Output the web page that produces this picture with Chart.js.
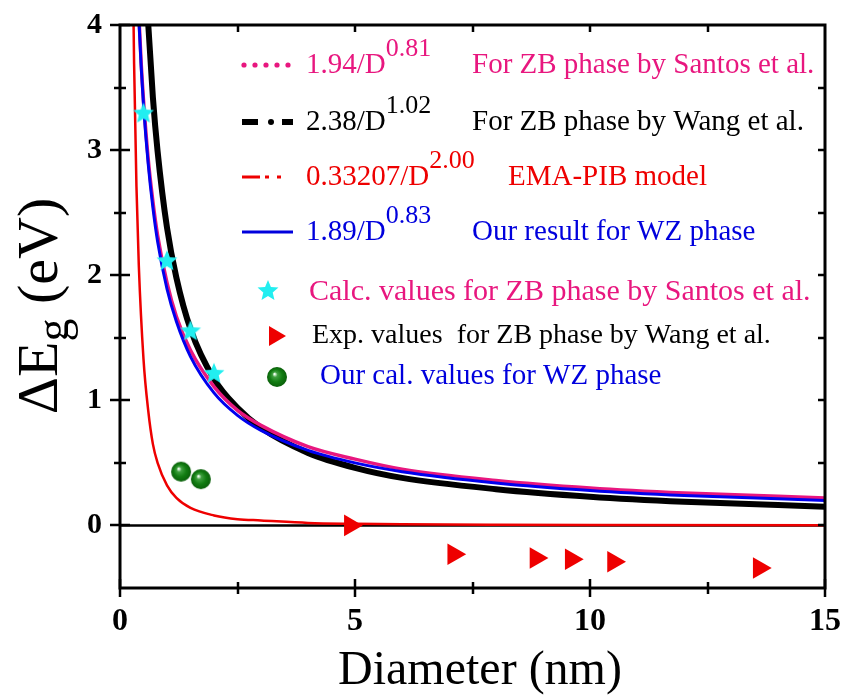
<!DOCTYPE html>
<html>
<head>
<meta charset="utf-8">
<script src="https://cdn.jsdelivr.net/npm/chart.js@4.4.0/dist/chart.umd.min.js"></script>
<style>
    html, body { margin: 0; padding: 0; background: #fff; }
    #wrap { width: 847px; height: 697px; }
</style>
</head>
<body>
<div id="wrap"><canvas id="chartEg" width="847" height="697"></canvas></div>
<script>
    "use strict";

    // axis ticks
    var xTicks = [0, 5, 10, 15];
    var yTicks = [0, 1, 2, 3, 4];

    // 1.94/D^0.81 (Santos, ZB)
    var santosD   = [0.38, 0.45, 0.5, 0.6, 0.7, 0.8, 1.0, 1.2, 1.5, 2, 2.5, 3, 4, 5, 6, 8, 10, 12, 15];
    var santosFit = [4.25, 3.70, 3.40, 2.93, 2.59, 2.32, 1.94, 1.67, 1.40, 1.11, 0.92, 0.80, 0.63, 0.53, 0.45, 0.36, 0.30, 0.26, 0.22];

    // 2.38/D^1.02 (Wang, ZB)
    var wangD   = [0.55, 0.6, 0.7, 0.8, 1.0, 1.2, 1.5, 2, 2.5, 3, 4, 5, 6, 8, 10, 12, 15];
    var wangFit = [4.38, 4.01, 3.42, 2.99, 2.38, 1.98, 1.57, 1.17, 0.94, 0.78, 0.58, 0.46, 0.38, 0.29, 0.23, 0.19, 0.15];

    // 0.33207/D^2 (EMA-PIB)
    var emaD   = [0.27, 0.3, 0.35, 0.4, 0.5, 0.6, 0.7, 0.8, 1.0, 1.2, 1.5, 2, 2.5, 3, 4, 5, 6, 8, 10, 15];
    var emaFit = [4.56, 3.69, 2.71, 2.08, 1.33, 0.92, 0.65, 0.50, 0.32, 0.22, 0.14, 0.08, 0.05, 0.04, 0.02, 0.013, 0.009, 0.005, 0.003, 0.0015];

    // 1.89/D^0.83 (WZ)
    var wzD   = [0.38, 0.45, 0.5, 0.6, 0.7, 0.8, 1.0, 1.2, 1.5, 2, 2.5, 3, 4, 5, 6, 8, 10, 12, 15];
    var wzFit = [4.22, 3.67, 3.36, 2.89, 2.54, 2.27, 1.89, 1.63, 1.35, 1.06, 0.88, 0.76, 0.60, 0.50, 0.43, 0.34, 0.28, 0.24, 0.20];

    // point data
    var calcD  = [0.5, 1.0, 1.5, 2.0];
    var calcEg = [3.30, 2.12, 1.56, 1.22];
    var expD   = [4.9, 7.1, 8.85, 9.6, 10.5, 13.6];
    var expEg  = [0.0, -0.23, -0.26, -0.27, -0.29, -0.34];
    var ourD   = [1.3, 1.72];
    var ourEg  = [0.43, 0.37];

    var PINK = '#e8177f';
    var SERIF = '"Liberation Serif", "Times New Roman", serif';

    function pairs(xs, ys) {
        return xs.map(function(x, i) { return { x: x, y: ys[i] }; });
    }

    // filled five-point star
    function makeStar(r, color) {
        var c = document.createElement('canvas');
        var s = Math.ceil(r * 2 + 2);
        c.width = s; c.height = s;
        var g = c.getContext('2d');
        g.beginPath();
        for (var i = 0; i < 10; i++) {
            var rad = i % 2 === 0 ? r : r * 0.45;
            var a = -Math.PI / 2 + i * Math.PI / 5;
            g.lineTo(s / 2 + rad * Math.cos(a), s / 2 + 1 + rad * Math.sin(a));
        }
        g.closePath();
        g.fillStyle = color;
        g.fill();
        return c;
    }

    // shaded green sphere
    function makeBall(r) {
        var c = document.createElement('canvas');
        var s = Math.ceil(r * 2 + 2);
        c.width = s; c.height = s;
        var g = c.getContext('2d');
        var cx = s / 2, cy = s / 2;
        var grd = g.createRadialGradient(cx - r * 0.25, cy - r * 0.3, r * 0.05, cx, cy, r);
        grd.addColorStop(0, '#f0fff0');
        grd.addColorStop(0.22, '#3f9f3f');
        grd.addColorStop(0.6, '#127d12');
        grd.addColorStop(1, '#0a5f0a');
        g.beginPath();
        g.arc(cx, cy, r, 0, Math.PI * 2);
        g.fillStyle = grd;
        g.fill();
        return c;
    }

    var starImg = makeStar(11, '#22eef0');
    var ballImg = makeBall(10);

    function curve(label, xs, ys, color, width, order) {
        return {
            label: label,
            data: pairs(xs, ys),
            showLine: true,
            borderColor: color,
            borderWidth: width,
            pointRadius: 0,
            cubicInterpolationMode: 'monotone',
            order: order
        };
    }

    // frame, crossing ticks and the zero line
    var framePlugin = {
        id: 'frame',
        beforeDatasetsDraw: function(chart) {
            var ctx = chart.ctx, a = chart.chartArea;
            var y0 = chart.scales.y.getPixelForValue(0);
            ctx.save();
            ctx.strokeStyle = '#000';
            ctx.lineWidth = 2.5;
            ctx.beginPath();
            ctx.moveTo(a.left, y0);
            ctx.lineTo(a.right, y0);
            ctx.stroke();
            ctx.restore();
        },
        afterDatasetsDraw: function(chart) {
            var ctx = chart.ctx, a = chart.chartArea;
            var xs = chart.scales.x, ys = chart.scales.y;
            ctx.save();
            ctx.strokeStyle = '#000';
            ctx.lineWidth = 3;
            ctx.strokeRect(a.left, a.top, a.right - a.left, a.bottom - a.top);
            ctx.lineWidth = 2.5;

            function marks(scale) {
                var out = [];
                var v = scale.ticks.map(function(t) { return t.value; });
                for (var i = 0; i < v.length; i++) {
                    out.push({ v: v[i], major: true });
                    if (i < v.length - 1) out.push({ v: (v[i] + v[i + 1]) / 2, major: false });
                }
                return out;
            }

            ctx.beginPath();
            marks(xs).forEach(function(m) {
                var p = Math.round(xs.getPixelForValue(m.v));
                var l = m.major ? 9 : 6;
                ctx.moveTo(p, a.bottom - l); ctx.lineTo(p, a.bottom + l);
                if (m.v > xs.min && m.v < xs.max) {
                    ctx.moveTo(p, a.top); ctx.lineTo(p, a.top + 7);
                }
            });
            marks(ys).forEach(function(m) {
                var p = Math.round(ys.getPixelForValue(m.v));
                var l = m.major ? 10 : 6;
                ctx.moveTo(a.left - l, p); ctx.lineTo(a.left + l, p);
                if (m.v < ys.max) {
                    ctx.moveTo(a.right, p); ctx.lineTo(a.right - 7, p);
                }
            });
            ctx.stroke();
            ctx.restore();
        }
    };

    // axis titles with the subscript
    var titlePlugin = {
        id: 'titles',
        afterDraw: function(chart) {
            var ctx = chart.ctx;
            ctx.save();
            ctx.fillStyle = '#000';
            ctx.textBaseline = 'alphabetic';

            ctx.font = '48px ' + SERIF;
            ctx.textAlign = 'center';
            ctx.fillText('Diameter (nm)', 480, 684);

            ctx.textAlign = 'left';
            ctx.translate(57, 306);
            ctx.rotate(-Math.PI / 2);
            ctx.font = '58px ' + SERIF;
            var w1 = ctx.measureText('\u0394E').width;
            var w3 = ctx.measureText(' (eV)').width;
            ctx.font = '46px ' + SERIF;
            var w2 = ctx.measureText('g').width;
            var x0 = -(w1 + w2 + w3) / 2;
            ctx.font = '58px ' + SERIF;
            ctx.fillText('\u0394E', x0, 0);
            ctx.fillText(' (eV)', x0 + w1 + w2, 0);
            ctx.font = '46px ' + SERIF;
            ctx.fillText('g', x0 + w1, 11);
            ctx.restore();
        }
    };

    // legend block: line samples, formulas with exponents, and point markers
    var legendRows = [
        { sample: 'dot', color: PINK, base: '1.94/D', sup: '0.81', desc: 'For ZB phase by Santos et al.', descX: 472, y: 73 },
        { sample: 'dashdot', color: '#000', base: '2.38/D', sup: '1.02', desc: 'For ZB phase by Wang et al.', descX: 472, y: 130 },
        { sample: 'dashdotdot', color: '#ee0000', base: '0.33207/D', sup: '2.00', desc: 'EMA-PIB model', descX: 508, y: 185 },
        { sample: 'solid', color: '#0000dd', base: '1.89/D', sup: '0.83', desc: 'Our result for WZ phase', descX: 472, y: 240 }
    ];

    var legendPlugin = {
        id: 'legendBlock',
        afterDraw: function(chart) {
            var ctx = chart.ctx;
            ctx.save();
            ctx.textAlign = 'left';
            ctx.textBaseline = 'alphabetic';

            legendRows.forEach(function(r) {
                var ly = r.y - 8;
                ctx.strokeStyle = r.color;
                ctx.fillStyle = r.color;
                if (r.sample === 'dot') {
                    for (var i = 0; i < 5; i++) {
                        ctx.beginPath();
                        ctx.arc(244 + i * 11, ly, 2.6, 0, Math.PI * 2);
                        ctx.fill();
                    }
                } else if (r.sample === 'dashdot') {
                    ctx.fillRect(242, ly - 3, 16, 6);
                    ctx.beginPath(); ctx.arc(271, ly, 3, 0, Math.PI * 2); ctx.fill();
                    ctx.fillRect(282, ly - 3, 11, 6);
                } else if (r.sample === 'dashdotdot') {
                    ctx.fillRect(242, ly - 1.5, 18, 3);
                    ctx.fillRect(265, ly - 1.5, 4, 3);
                    ctx.fillRect(277, ly - 1.5, 4, 3);
                } else {
                    ctx.fillRect(242, ly - 1.5, 51, 3);
                }
                ctx.font = '29px ' + SERIF;
                ctx.fillText(r.base, 306, r.y);
                var bw = ctx.measureText(r.base).width;
                ctx.font = '26px ' + SERIF;
                ctx.fillText(r.sup, 306 + bw, r.y - 17);
                ctx.font = '29px ' + SERIF;
                ctx.fillText(r.desc, r.descX, r.y);
            });

            ctx.drawImage(starImg, 268 - starImg.width / 2, 290 - starImg.height / 2);
            ctx.fillStyle = PINK;
            ctx.font = '30px ' + SERIF;
            ctx.fillText('Calc. values for ZB phase by Santos et al.', 309, 300);

            ctx.fillStyle = '#ee0000';
            ctx.beginPath();
            ctx.moveTo(269, 326); ctx.lineTo(286, 336); ctx.lineTo(269, 346);
            ctx.closePath();
            ctx.fill();
            ctx.fillStyle = '#000';
            ctx.font = '28px ' + SERIF;
            ctx.fillText('Exp. values  for ZB phase by Wang et al.', 312, 343);

            ctx.drawImage(ballImg, 277 - ballImg.width / 2, 377 - ballImg.height / 2);
            ctx.fillStyle = '#0000dd';
            ctx.font = '29px ' + SERIF;
            ctx.fillText('Our cal. values for WZ phase', 320, 384);
            ctx.restore();
        }
    };

    var ctx = document.getElementById('chartEg').getContext('2d');
    var myChart = new Chart(ctx, {
        type: 'scatter',
        data: {
            datasets: [
                {
                    label: 'Calc. values (Santos)',
                    data: pairs(calcD, calcEg),
                    pointStyle: starImg,
                    order: 0
                },
                {
                    label: 'Our cal. values (WZ)',
                    data: pairs(ourD, ourEg),
                    pointStyle: ballImg,
                    order: 1
                },
                {
                    label: 'Exp. values (Wang)',
                    data: pairs(expD, expEg),
                    pointStyle: 'triangle',
                    rotation: 90,
                    pointRadius: 12.5,
                    backgroundColor: '#ee0000',
                    borderWidth: 0,
                    order: 2
                },
                curve('0.33207/D^2.00', emaD, emaFit, '#ee0000', 2.5, 3),
                curve('1.89/D^0.83', wzD, wzFit, '#0000ee', 3, 4),
                curve('1.94/D^0.81', santosD, santosFit, PINK, 3.5, 5),
                curve('2.38/D^1.02', wangD, wangFit, '#000', 6, 6)
            ]
        },
        options: {
            responsive: false,
            animation: false,
            layout: {
                padding: { left: 0, right: 22, top: 25, bottom: 0 }
            },
            plugins: {
                legend: { display: false },
                tooltip: { enabled: false }
            },
            scales: {
                x: {
                    type: 'linear',
                    min: 0,
                    max: 15,
                    afterBuildTicks: function(axis) {
                        axis.ticks = xTicks.map(function(v) { return { value: v }; });
                    },
                    afterFit: function(scale) {
                        scale.height = 109;
                        scale.paddingLeft = 0;
                        scale.paddingRight = 0;
                    },
                    ticks: {
                        color: '#000',
                        padding: 15,
                        maxRotation: 0,
                        font: { family: SERIF, size: 32, weight: 'bold' }
                    },
                    grid: { display: false, drawTicks: false },
                    border: { display: false }
                },
                y: {
                    type: 'linear',
                    min: -0.5,
                    max: 4,
                    afterBuildTicks: function(axis) {
                        axis.ticks = yTicks.map(function(v) { return { value: v }; });
                    },
                    afterFit: function(scale) {
                        scale.width = 120;
                        scale.paddingTop = 0;
                        scale.paddingBottom = 0;
                    },
                    ticks: {
                        color: '#000',
                        padding: 18,
                        font: { family: SERIF, size: 30, weight: 'bold' }
                    },
                    grid: { display: false, drawTicks: false },
                    border: { display: false }
                }
            }
        },
        plugins: [framePlugin, titlePlugin, legendPlugin]
    });
</script>
</body>
</html>
